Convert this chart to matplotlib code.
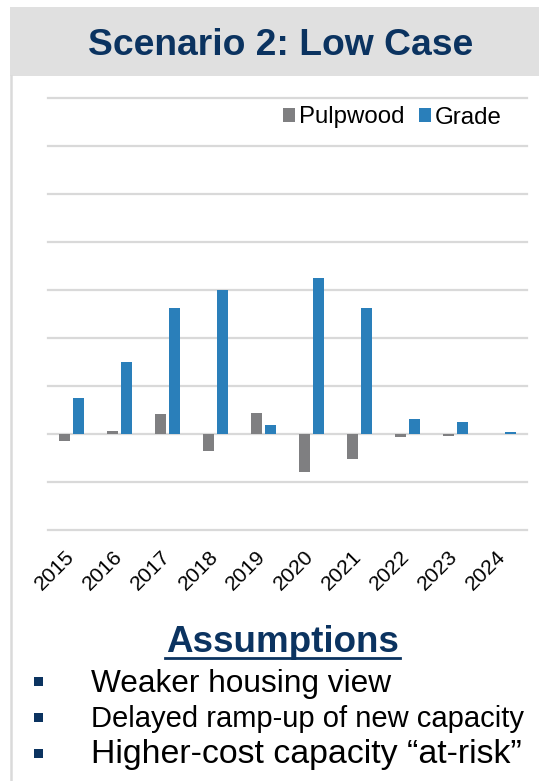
import matplotlib
matplotlib.use("Agg")
import matplotlib.pyplot as plt
import matplotlib.transforms as mtransforms
from matplotlib.patches import Rectangle
from matplotlib.lines import Line2D
import numpy as np

plt.rcParams['font.family'] = ['Liberation Sans', 'DejaVu Sans']

years = ["2015", "2016", "2017", "2018", "2019", "2020", "2021", "2022", "2023", "2024"]
pulpwood = [-0.15, 0.06, 0.40, -0.36, 0.42, -0.80, -0.54, -0.07, -0.05, 0.0]
grade = [0.73, 1.50, 2.62, 2.98, 0.17, 3.25, 2.62, 0.30, 0.25, 0.03]
bullets = ["Weaker housing view",
           "Delayed ramp-up of new capacity",
           "Higher-cost capacity \u201cat-risk\u201d"]

W, H = 539, 781
navy = "#0b3360"
gray = "#7f7f81"
blue = "#2a7fba"

fig = plt.figure(figsize=(W / 100, H / 100), dpi=100)

def fx(px):
    return px / W

def fy(py):
    return 1 - py / H

# header band and left border
fig.patches.append(Rectangle((fx(10), fy(76)), fx(529), 69.3 / H, transform=fig.transFigure,
                             facecolor="#e0e0e0", edgecolor="none"))
fig.lines.append(Line2D([fx(10.5), fx(10.5)], [fy(76), 0], transform=fig.transFigure,
                        color="#dadada", lw=1.8))
fig.text(fx(280.5), fy(55), "Scenario 2: Low Case", ha="center", va="baseline",
         fontsize=26.8, fontweight="bold", color=navy)

# chart area
ax = fig.add_axes([fx(48), fy(529.5), fx(527) - fx(48), (529.5 - 97.5) / H])
x = np.arange(len(years))
w = 0.23
ax.bar(x - 0.146, pulpwood, w, color=gray, label="Pulpwood", zorder=3)
ax.bar(x + 0.146, grade, w, color=blue, label="Grade", zorder=3)
ax.set_xlim(-0.5, len(years) - 0.5)
ax.set_ylim(-2, 7)
for v in range(-2, 8):
    ax.axhline(v, color="#d9d9d9", lw=1.6, zorder=1, clip_on=False)
for s in ax.spines.values():
    s.set_visible(False)
ax.set_yticks([])
ax.set_xticks(x)
ax.set_xticklabels(years, rotation=45, ha="right", va="top", fontsize=15.3)
ax.tick_params(axis="x", length=0, pad=12.8)
shift = mtransforms.ScaledTranslation(6 / 100, 0, fig.dpi_scale_trans)
for lab in ax.get_xticklabels():
    lab.set_transform(lab.get_transform() + shift)

ax.legend(loc="center right", bbox_to_anchor=(fx(502), fy(117.5)), bbox_transform=fig.transFigure,
          ncol=2, frameon=False, fontsize=17.3, handlelength=0.48, handleheight=0.48,
          handletextpad=0.18, columnspacing=0.6, borderpad=0, borderaxespad=0)

# assumptions block
fig.text(fx(282.5), fy(652.5), "Assumptions", ha="center", va="baseline",
         fontsize=26.5, fontweight="bold", color=navy)
fig.lines.append(Line2D([fx(164.5), fx(400)], [fy(658), fy(658)], transform=fig.transFigure,
                        color=navy, lw=2))

sizes = [22.8, 21.0, 24.4]
baselines = [692, 727, 763]
bullet_y = [681, 717, 753.5]
for txt, sz, yb, yc in zip(bullets, sizes, baselines, bullet_y):
    fig.patches.append(Rectangle((fx(34), fy(yc + 4.5)), fx(9), 9 / H, transform=fig.transFigure,
                                 facecolor=navy, edgecolor="none"))
    fig.text(fx(91), fy(yb), txt, ha="left", va="baseline", fontsize=sz, color="black")

fig.savefig("out.png", dpi=100)
